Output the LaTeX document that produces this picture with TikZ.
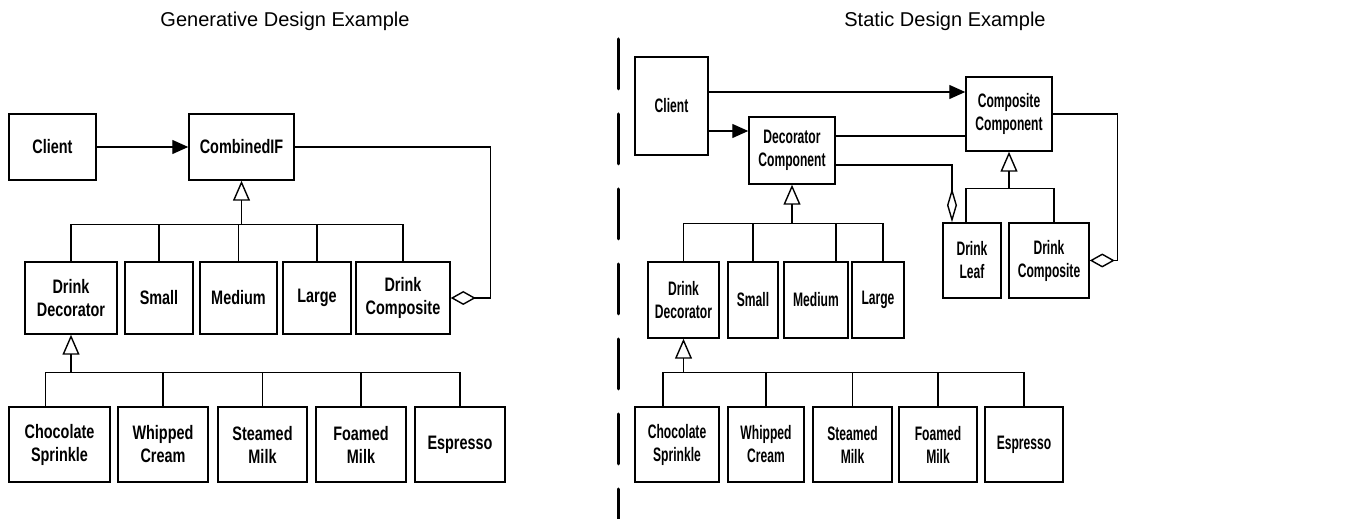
\documentclass[tikz,border=0pt]{standalone}
\usepackage{fontspec}
\setmainfont{Liberation Sans}
\newfontfamily\boxfont[FakeStretch=0.74]{Liberation Sans}
\newfontfamily\boxfontR[FakeStretch=0.62]{Liberation Sans}
\usepackage{tikz}
\usetikzlibrary{arrows.meta,positioning,calc}

\begin{document}
\begin{tikzpicture}[
		x=1pt, y=1pt,
		>={Triangle[length=16pt,width=14pt]},
		cls/.style={draw, line width=1.5pt, align=center, inner sep=0pt, font=\boxfont\bfseries\fontsize{19.5}{23}\selectfont},
		clsR/.style={cls, font=\boxfontR\bfseries\fontsize{19.5}{23}\selectfont},
		title/.style={font=\fontsize{20}{24}\selectfont},
		link/.style={line width=1.4pt},
		inh/.style={link, -{Triangle[open,length=20pt,width=17pt]}},
		agg/.style={link, {Diamond[open,length=25pt,width=14pt]}-},
		aggv/.style={link, {Diamond[open,length=34pt,width=10pt]}-},
		divider/.style={line width=3pt, line cap=round, dash pattern=on 50pt off 25pt}
		]
		
		\useasboundingbox (0,0) rectangle (1355,519);
		
		% --------------------------------------------------
		% Titles and divider
		% --------------------------------------------------
		\node[title] (T1) at (285,498) {Generative Design Example};
		\node[title] (T2) at (945,498) {Static Design Example};
		
		\draw[divider] (618,480) -- (618,-2);
		
		% --------------------------------------------------
		% LEFT: generative design
		% --------------------------------------------------
		\node[cls, minimum width=87, minimum height=66] (LC) at (52.5,372) {Client};
		\node[cls, minimum width=105, minimum height=66] (CIF) at (241.5,372) {CombinedIF};
		
		% second row
		\node[cls, minimum width=92, minimum height=72] (LDD) at (71,221) {Drink\\Decorator};
		\node[cls, minimum width=68, minimum height=72] (LSm) at (159,221) {Small};
		\node[cls, minimum width=77, minimum height=72] (LMd) at (238.5,221) {Medium};
		\node[cls, minimum width=68, minimum height=72] (LLg) at (317,221) {Large};
		\node[cls, minimum width=94, minimum height=72] (LDC) at (403,221) {Drink\\Composite};
		
		% third row
		\node[cls, minimum width=101, minimum height=75] (LCS) at (59.5,74.5) {Chocolate\\Sprinkle};
		\node[cls, minimum width=90, minimum height=75] (LWC) at (163,74.5) {Whipped\\Cream};
		\node[cls, minimum width=89, minimum height=75] (LSM) at (262.5,74.5) {Steamed\\Milk};
		\node[cls, minimum width=90, minimum height=75] (LFM) at (361,74.5) {Foamed\\Milk};
		\node[cls, minimum width=90, minimum height=75] (LEs) at (460,74.5) {Espresso};
		
		\draw[->, link] (LC.east) -- (CIF.west);
		\draw[agg] (LDC.east) -- ++(40,0) |- (CIF.east);
		
		\coordinate (LB2) at ([yshift=-44pt]CIF.south);
		\draw[inh] (LB2) -- (CIF.south);
		\foreach \n in {LDD,LSm,LMd,LLg,LDC}
		\draw[link] (\n.north) |- (LB2);
		
		\coordinate (LB3) at ([yshift=-38pt]LDD.south);
		\draw[inh] (LB3) -- (LDD.south);
		\draw[link] ([xshift=-14pt]LCS.north) |- (LB3);
		\foreach \n in {LWC,LSM,LFM,LEs}
		\draw[link] (\n.north) |- (LB3);
		
		% --------------------------------------------------
		% RIGHT: static design
		% --------------------------------------------------
		\node[clsR, minimum width=73, minimum height=98] (RC) at (671.5,413) {Client};
		\node[clsR, minimum width=86, minimum height=67] (DC) at (792,368.5) {Decorator\\Component};
		\node[clsR, minimum width=86, minimum height=74] (CC) at (1009,405) {Composite\\Component};
		\node[clsR, minimum width=58, minimum height=75] (RDL) at (972,258.5) {Drink\\Leaf};
		\node[clsR, minimum width=80, minimum height=75] (RDC) at (1049,258.5) {Drink\\Composite};
		
		% second row
		\node[clsR, minimum width=71, minimum height=76] (RDD) at (683.5,219) {Drink\\Decorator};
		\node[clsR, minimum width=50, minimum height=76] (RSm) at (753,219) {Small};
		\node[clsR, minimum width=64, minimum height=76] (RMd) at (816,219) {Medium};
		\node[clsR, minimum width=52, minimum height=76] (RLg) at (878,219) {Large};
		
		% third row
		\node[clsR, minimum width=84, minimum height=75] (RCS) at (677,74.5) {Chocolate\\Sprinkle};
		\node[clsR, minimum width=76, minimum height=75] (RWC) at (766,74.5) {Whipped\\Cream};
		\node[clsR, minimum width=79, minimum height=75] (RSM) at (852.5,74.5) {Steamed\\Milk};
		\node[clsR, minimum width=78, minimum height=75] (RFM) at (938,74.5) {Foamed\\Milk};
		\node[clsR, minimum width=78, minimum height=75] (REs) at (1024,74.5) {Espresso};
		
		\draw[->, link] ([yshift=14pt]RC.east) -- ([yshift=14pt]RC.east -| CC.west);
		\draw[->, link] ([yshift=-25pt]RC.east) -- ([yshift=-25pt]RC.east -| DC.west);
		\draw[link] ([yshift=14.5pt]DC.east) -- ([yshift=14.5pt]DC.east -| CC.west);
		\draw[aggv] ([xshift=-20pt]RDL.north) |- ([yshift=-14.5pt]DC.east);
		\draw[agg] (RDC.east) -- ++(28,0) |- (CC.east);
		
		\coordinate (RB2) at ([yshift=-39pt]DC.south);
		\draw[inh] (RB2) -- (DC.south);
		\draw[link] (RDD.north) |- (RB2);
		\draw[link] (RSm.north) |- (RB2);
		\draw[link] ([xshift=20pt]RMd.north) |- (RB2);
		\draw[link] ([xshift=5pt]RLg.north) |- (RB2);
		
		\coordinate (RB4) at ([yshift=-37pt]CC.south);
		\draw[inh] (RB4) -- (CC.south);
		\draw[link] ([xshift=-6pt]RDL.north) |- (RB4);
		\draw[link] ([xshift=5pt]RDC.north) |- (RB4);
		
		\coordinate (RB3) at ([yshift=-34pt]RDD.south);
		\draw[inh] (RB3) -- (RDD.south);
		\draw[link] ([xshift=-14pt]RCS.north) |- (RB3);
		\foreach \n in {RWC,RSM,RFM,REs}
		\draw[link] (\n.north) |- (RB3);
		
	\end{tikzpicture}
\end{document}
